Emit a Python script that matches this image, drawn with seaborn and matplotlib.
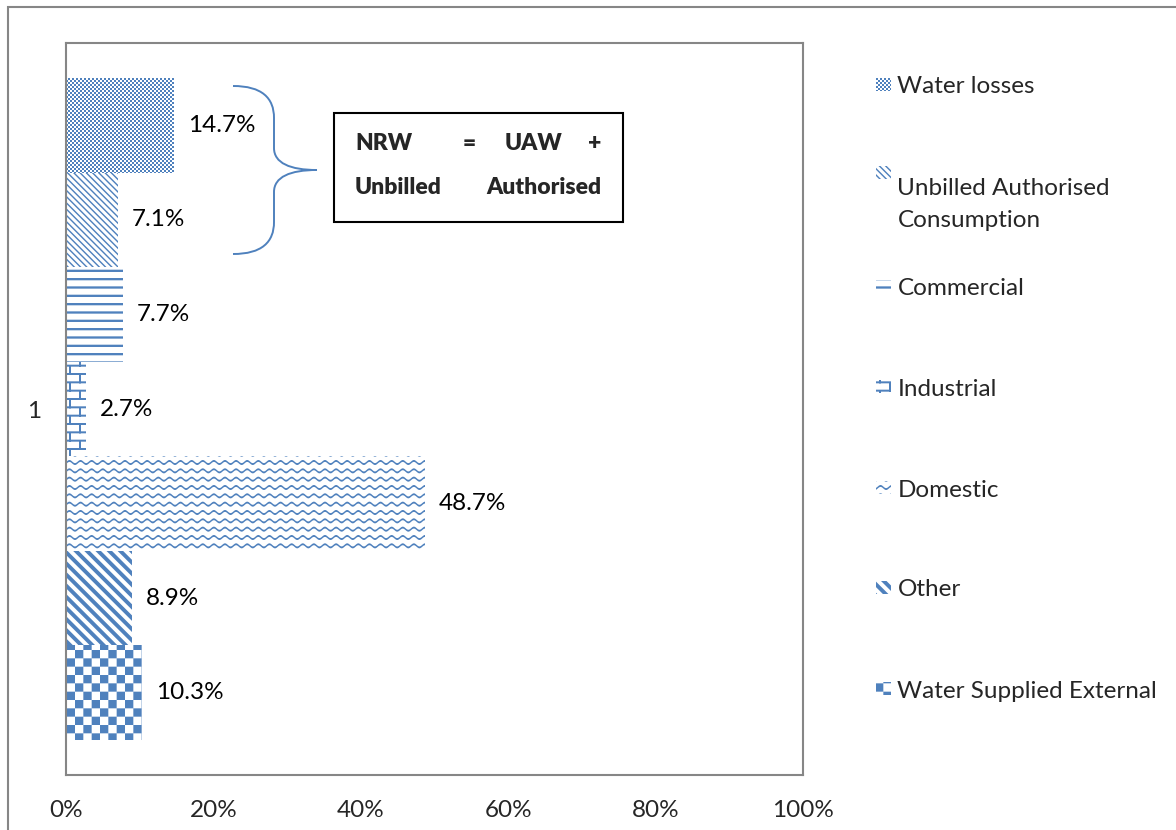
import warnings
warnings.filterwarnings("ignore")
import numpy as np
import pandas as pd
import matplotlib
matplotlib.use("Agg")
import matplotlib.pyplot as plt
import matplotlib.hatch as mhatch
import matplotlib.patches as mpatches
from matplotlib.path import Path
from matplotlib.legend_handler import HandlerPatch
import seaborn as sns

# ---------------- data ----------------
category = ["1"]
series = ["Water losses", "Unbilled Authorised Consumption", "Commercial",
          "Industrial", "Domestic", "Other", "Water Supplied External"]
legend_labels = ["Water losses", "Unbilled Authorised\nConsumption", "Commercial",
                 "Industrial", "Domestic", "Other", "Water Supplied External"]
values = [14.7, 7.1, 7.7, 2.7, 48.7, 8.9, 10.3]
value_labels = ["14.7%", "7.1%", "7.7%", "2.7%", "48.7%", "8.9%", "10.3%"]
xtick_values = [0, 20, 40, 60, 80, 100]
xtick_labels = ["0%", "20%", "40%", "60%", "80%", "100%"]
box_line1 = ["NRW", "=", "UAW", "+"]
box_line2 = ["Unbilled", "Authorised"]

# ---------------- style ----------------
W, H = 1176, 830
BLUE = "#4F81BD"
GRAY = "#868686"
FS = 17.5
sns.set_style("white")
plt.rcParams["font.family"] = ["Lato", "DejaVu Sans"]
plt.rcParams["hatch.linewidth"] = 0.0

# ---------------- custom fill patterns (hatch tile = 100 px at dpi 100) ----------------
T = 100.0


def _rect(x0, y0, x1, y1):
    return [(x0, y0), (x1, y0), (x1, y1), (x0, y1), (x0, y0)]


def pat_checker(cell):
    n = int(round(T / cell))
    s = 1.0 / n
    return [_rect(i * s, j * s, (i + 1) * s, (j + 1) * s)
            for i in range(n) for j in range(n) if (i + j) % 2 == 0]


def pat_hlines(n, thick):
    t = thick / T
    return [_rect(0, (k + 0.5) / n - t / 2, 1, (k + 0.5) / n + t / 2) for k in range(n)]


def pat_diag(n, thick):
    w = thick / T
    polys = []
    for k in range(-n, n + 1):
        x0 = k / n
        polys.append([(x0, 1), (x0 + w, 1), (x0 + w + 1, 0), (x0 + 1, 0), (x0, 1)])
    return polys


def pat_brick(nrows, nb, thick):
    t = thick / T
    h = 1.0 / nrows
    polys = []
    for r in range(nrows):
        y0 = r * h
        polys.append(_rect(0, y0, 1, y0 + t))
        off = 0.5 / nb if r % 2 else 0.0
        for b in range(nb + 1):
            x = b / nb + off
            if x <= 1.0 + 1e-9:
                polys.append(_rect(x - t / 2, y0, x + t / 2, y0 + h))
    return polys


def pat_wave(nrows, nper, amp, thick, samples=10):
    A = amp / T
    t = thick / T
    xs = np.linspace(0, 1, nper * samples + 1)
    polys = []
    for r in range(nrows):
        yc = (r + 0.5) / nrows
        ys = yc + A * np.sin(2 * np.pi * nper * xs)
        upper = list(zip(xs, ys + t / 2))
        lower = list(zip(xs[::-1], (ys - t / 2)[::-1]))
        polys.append(upper + lower + [upper[0]])
    return polys


PATTERNS = {
    "G": pat_checker(2.0),          # water losses: fine checker
    "D": pat_diag(16, 2.0),         # unbilled authorised: thin diagonal
    "H": pat_hlines(12, 2.3),       # commercial: horizontal lines
    "B": pat_brick(12, 5, 2.0),     # industrial: brick
    "W": pat_wave(12, 9, 1.6, 1.9), # domestic: wave
    "S": pat_diag(9, 5.5),          # other: wide diagonal
    "C": pat_checker(100.0 / 12),   # external: checkerboard
}


class _PolyHatch(mhatch.HatchPatternBase):
    def __init__(self, hatch, density):
        self.polys = []
        for ch, polys in PATTERNS.items():
            if ch in hatch:
                self.polys += polys
        self.num_vertices = sum(len(p) for p in self.polys)

    def set_vertices_and_codes(self, vertices, codes):
        i = 0
        for p in self.polys:
            n = len(p)
            vertices[i:i + n] = p
            codes[i] = Path.MOVETO
            codes[i + 1:i + n - 1] = Path.LINETO
            codes[i + n - 1] = Path.CLOSEPOLY
            i += n


mhatch._hatch_types.append(_PolyHatch)
hatches = ["G", "D", "H", "B", "W", "S", "C"]

# ---------------- figure ----------------
fig = plt.figure(figsize=(W / 100, H / 100), dpi=100)
fig.patch.set_facecolor("white")


def fx(x):
    return x / W


def fy(y):
    return 1 - y / H


ax = fig.add_axes([fx(66), fy(775), (803 - 66) / W, (775 - 43) / H])

df = pd.DataFrame({"Category": category * len(series), "Series": series, "Value": values})
sns.barplot(data=df, y="Category", x="Value", hue="Series", hue_order=series,
            orient="h", width=0.904, palette=["white"] * len(series), saturation=1,
            legend=False, ax=ax)

containers = sorted(ax.containers, key=lambda c: c.patches[0].get_y())
for c, hp, lab in zip(containers, hatches, value_labels):
    for p in c.patches:
        p.set_facecolor("white")
        p.set_edgecolor(BLUE)
        p.set_linewidth(0)
        p.set_hatch(hp)
    ax.bar_label(c, labels=[lab], padding=10, fontsize=FS, color="black")

ax.set_xlim(0, 100)
ax.set_xticks(xtick_values)
ax.set_xticklabels(xtick_labels, fontsize=FS)
ax.set_yticks([0])
ax.set_yticklabels(category, fontsize=FS)
ax.tick_params(axis="x", length=0, pad=18)
ax.tick_params(axis="y", length=0, pad=18)
ax.set_xlabel("")
ax.set_ylabel("")
ax.grid(False)
for s in ax.spines.values():
    s.set_visible(True)
    s.set_color(GRAY)
    s.set_linewidth(1.5)

# outer chart border (only left/top visible in the reference)
fig.add_artist(mpatches.Rectangle((fx(8), -0.1), 2, fy(7) + 0.1, transform=fig.transFigure,
                                  fill=False, edgecolor=GRAY, linewidth=1.5))

# ---------------- legend (one entry per slot) ----------------
SHIFT = 23.0


def shifted_patch(legend, orig_handle, xdescent, ydescent, width, height, fontsize):
    return mpatches.Rectangle((-xdescent, -ydescent + SHIFT), width, height)


leg_y = [86.5, 204.5, 288.5, 389, 490, 590, 691]
for c, lab, yc in zip(containers, legend_labels, leg_y):
    h = c.patches[0]
    hm = {h: HandlerPatch(patch_func=shifted_patch)} if "\n" in lab else None
    leg = fig.legend(handles=[h], labels=[lab], loc="center left",
                     bbox_to_anchor=(fx(876), fy(yc)), bbox_transform=fig.transFigure,
                     frameon=False, borderpad=0, borderaxespad=0,
                     handlelength=0.6, handleheight=0.43, handletextpad=0.28,
                     fontsize=FS, handler_map=hm)
    if "\n" in lab:
        leg.get_texts()[0].set_linespacing(1.7)

# ---------------- brace ----------------
pts = [(233, 86), (262, 86), (274, 98), (274, 118),
       (274, 148),
       (274, 163), (290, 170), (317, 170),
       (290, 170), (274, 177), (274, 192),
       (274, 222),
       (274, 242), (262, 254), (233, 254)]
codes = [Path.MOVETO, Path.CURVE4, Path.CURVE4, Path.CURVE4,
         Path.LINETO,
         Path.CURVE4, Path.CURVE4, Path.CURVE4,
         Path.CURVE4, Path.CURVE4, Path.CURVE4,
         Path.LINETO,
         Path.CURVE4, Path.CURVE4, Path.CURVE4]
brace = Path([(fx(x), fy(y)) for x, y in pts], codes)
fig.add_artist(mpatches.PathPatch(brace, transform=fig.transFigure, fill=False,
                                  edgecolor=BLUE, linewidth=1.4))

# ---------------- annotation box ----------------
fig.add_artist(mpatches.Rectangle((fx(334), fy(222)), (623 - 334) / W, (222 - 113) / H,
                                  transform=fig.transFigure, fill=False,
                                  edgecolor="black", linewidth=1.5))
BFS = 16.5
BW = "heavy"
fig.text(fx(355), fy(150), box_line1[0], ha="left", va="baseline", fontsize=BFS, fontweight=BW)
fig.text(fx(469), fy(150), box_line1[1], ha="center", va="baseline", fontsize=BFS, fontweight=BW)
fig.text(fx(533), fy(150), box_line1[2], ha="center", va="baseline", fontsize=BFS, fontweight=BW)
fig.text(fx(601), fy(150), box_line1[3], ha="right", va="baseline", fontsize=BFS, fontweight=BW)
fig.text(fx(355), fy(194), box_line2[0], ha="left", va="baseline", fontsize=BFS, fontweight=BW)
fig.text(fx(601), fy(194), box_line2[1], ha="right", va="baseline", fontsize=BFS, fontweight=BW)

fig.savefig("out.png", dpi=100)
